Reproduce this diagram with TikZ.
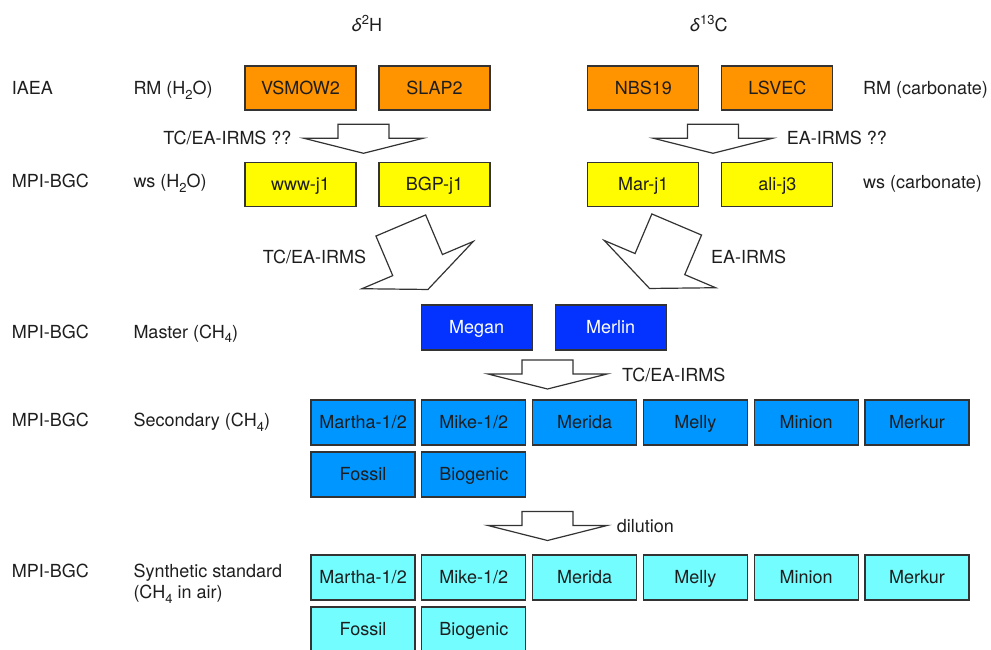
\documentclass[tikz,border=0pt]{standalone}
\usepackage{fontspec}
\setmainfont{TeX Gyre Heros}
\usepackage{tikz}
\usetikzlibrary{positioning}

\definecolor{tangerine}{HTML}{FF9300}
\definecolor{lemon}{HTML}{FFFB00}
\definecolor{blueberry}{HTML}{0433FF}
\definecolor{aqua}{HTML}{0096FF}
\definecolor{ice}{HTML}{73FDFF}
\definecolor{edge}{HTML}{333333}
\definecolor{ink}{HTML}{1E1E1E}

\tikzstyle{refbox} = [rectangle, draw=edge, line width=1.2pt, minimum width=111pt, minimum height=44pt, inner sep=0pt, outer sep=0pt, text height=12.5pt, text depth=0pt, text=ink]
\tikzstyle{rm} = [refbox, fill=tangerine]
\tikzstyle{ws} = [refbox, fill=lemon]
\tikzstyle{master} = [refbox, fill=blueberry, minimum height=45pt, text=white]
\tikzstyle{second} = [refbox, fill=aqua, minimum width=104pt, minimum height=45pt]
\tikzstyle{synth} = [second, fill=ice]
\tikzstyle{rowname} = [anchor=base west, inner sep=0pt, text=ink]
\tikzstyle{fatarrow} = [draw=edge, line width=1.2pt, fill=white, line join=miter]

\newcommand{\sbs}[1]{\raisebox{-4.5pt}{\fontsize{13}{13}\selectfont #1}}
\newcommand{\sps}[1]{\raisebox{7pt}{\fontsize{13}{13}\selectfont #1}}
% flat block arrow, top of the shaft at #1
\newcommand{\flatarrow}[1]{\draw[fatarrow, shift={#1}] (-25.5,0) -- (25.5,0) -- (25.5,-14) -- (59.5,-14) -- (0,-29) -- (-59.5,-14) -- (-25.5,-14) -- cycle;}
% long tilted block arrow
\newcommand{\tiltarrow}[2]{\draw[fatarrow, shift={#1}, rotate=#2] (-27,0) -- (27,0) -- (27,-43) -- (60.5,-43) -- (0,-69.5) -- (-60.5,-43) -- (-27,-43) -- cycle;}

\begin{document}
\begin{tikzpicture}[x=1pt, y=1pt, font=\fontsize{18}{21.5}\selectfont]
\useasboundingbox (0,0) rectangle (991,-650);

% isotopes
\node (hydro) [rowname] at (351.7,-31.7) {\textit{δ}\sps{2}H};
\node (carbon) [rowname] at (690,-31.7) {\textit{δ}\sps{13}C};

% reference materials
\node (iaea) [rowname] at (11.7,-95) {IAEA};
\node (rmwater) [rowname] at (133.3,-95) {RM (H\sbs{2}O)};
\node (vsmow) [rm] at (300.5,-88) {VSMOW2};
\node (slap) [rm, right=23pt of vsmow] {SLAP2};
\node (nbs) [rm] at (643.3,-88) {NBS19};
\node (lsvec) [rm, right=23pt of nbs] {LSVEC};
\node (rmcarb) [rowname] at (863,-95) {RM (carbonate)};

\flatarrow{(363.5,-124.3)}
\flatarrow{(713,-124.3)}
\node (irmsa) [rowname, anchor=base east] at (291.7,-144.5) {TC/EA-IRMS ??};
\node (irmsb) [rowname] at (786.7,-144.5) {EA-IRMS ??};

% working standards
\node (mpiws) [rowname] at (11.7,-188) {MPI-BGC};
\node (wswater) [rowname] at (133.3,-188) {ws (H\sbs{2}O)};
\node (www) [ws] at (300.5,-184.5) {www-j1};
\node (bgp) [ws, right=23pt of www] {BGP-j1};
\node (mar) [ws] at (643.3,-184.5) {Mar-j1};
\node (ali) [ws, right=23pt of mar] {ali-j3};
\node (wscarb) [rowname] at (863,-189) {ws (carbonate)};

\tiltarrow{(400.8,-225.5)}{23}
\tiltarrow{(676.7,-224.5)}{-23}
\node (irmsc) [rowname] at (262.7,-263) {TC/EA-IRMS};
\node (irmsd) [rowname] at (711,-263) {EA-IRMS};

% master gases
\node (mpimaster) [rowname] at (11.7,-338) {MPI-BGC};
\node (mastername) [rowname] at (133.3,-338) {Master (CH\sbs{4})};
\node (megan) [master] at (476.7,-327.5) {Megan};
\node (merlin) [master, right=23pt of megan] {Merlin};

\flatarrow{(547.5,-360)}
\node (irmse) [rowname] at (622,-381) {TC/EA-IRMS};

% secondary standards
\node (mpisec) [rowname] at (11.7,-426.7) {MPI-BGC};
\node (secname) [rowname] at (133.3,-426.7) {Secondary (CH\sbs{4})};
\node (martha) [second] at (363,-422.5) {Martha-1/2};
\node (mike) [second, right=6.8pt of martha] {Mike-1/2};
\node (merida) [second, right=6.8pt of mike] {Merida};
\node (melly) [second, right=6.8pt of merida] {Melly};
\node (minion) [second, right=6.8pt of melly] {Minion};
\node (merkur) [second, right=6.8pt of minion] {Merkur};
\node (fossil) [second, below=7pt of martha] {Fossil};
\node (biogenic) [second, right=6.8pt of fossil] {Biogenic};

\flatarrow{(547.5,-511.5)}
\node (dilution) [rowname] at (616.7,-532.3) {dilution};

% synthetic standards
\node (mpisyn) [rowname] at (11.7,-577) {MPI-BGC};
\node (synname) [rowname, align=left] at (133.3,-598.5) {Synthetic standard\\(CH\sbs{4} in air)};
\node (marthasyn) [synth] at (363,-577.5) {Martha-1/2};
\node (mikesyn) [synth, right=6.8pt of marthasyn] {Mike-1/2};
\node (meridasyn) [synth, right=6.8pt of mikesyn] {Merida};
\node (mellysyn) [synth, right=6.8pt of meridasyn] {Melly};
\node (minionsyn) [synth, right=6.8pt of mellysyn] {Minion};
\node (merkursyn) [synth, right=6.8pt of minionsyn] {Merkur};
\node (fossilsyn) [synth, below=7pt of marthasyn] {Fossil};
\node (biogenicsyn) [synth, right=6.8pt of fossilsyn] {Biogenic};

\end{tikzpicture}
\end{document}
